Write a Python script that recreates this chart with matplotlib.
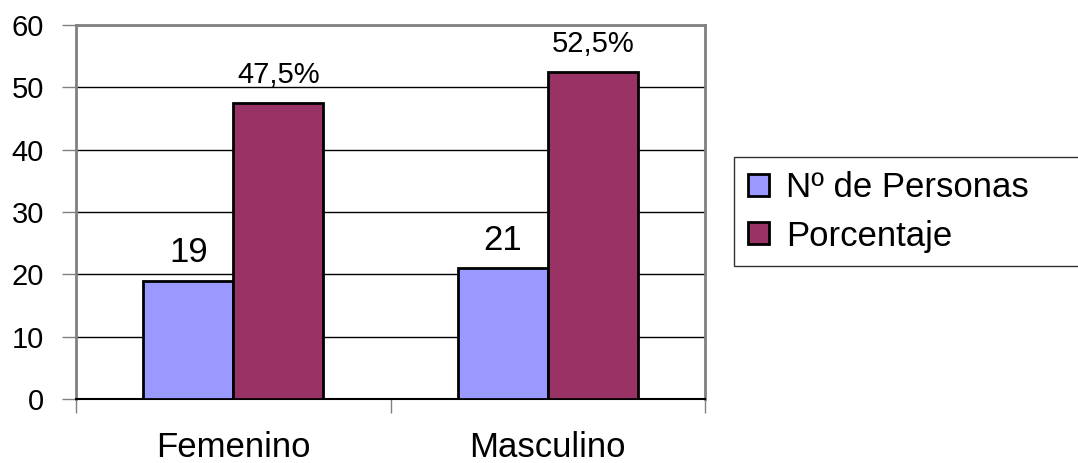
import numpy as np
import matplotlib.pyplot as plt

categories = ["Femenino", "Masculino"]
personas = [19, 21]
porcentaje = [47.5, 52.5]
personas_labels = ["19", "21"]
porcentaje_labels = ["47,5%", "52,5%"]
series_names = ["Nº de Personas", "Porcentaje"]

BLUE = '#9999FF'
MAROON = '#993366'

plt.rc('font', family=['Liberation Sans', 'DejaVu Sans'])

fig = plt.figure(figsize=(10.78, 4.63), dpi=100)
ax = fig.add_axes([76 / 1078, 1 - 399 / 463, 629 / 1078, 374 / 463])

x = np.arange(len(categories))
w = 0.286
b1 = ax.bar(x - w / 2, personas, w, color=BLUE, edgecolor='black', linewidth=2, label=series_names[0], zorder=3)
b2 = ax.bar(x + w / 2, porcentaje, w, color=MAROON, edgecolor='black', linewidth=2, label=series_names[1], zorder=3)

ax.bar_label(b1, labels=personas_labels, padding=8, fontsize=25)
ax.bar_label(b2, labels=porcentaje_labels, padding=10, fontsize=21)

ax.set_xlim(-0.5, 1.5)
ax.set_ylim(0, 60)
ax.set_yticks(range(0, 61, 10))
ax.yaxis.grid(True, color='black', linewidth=1, zorder=0)
ax.tick_params(axis='y', labelsize=21, length=10, width=1, color='#808080', pad=13)

ax.set_xticks(x)
ax.set_xticklabels(categories, fontsize=25)
ax.set_xticks([-0.5, 0.5, 1.5], minor=True)
ax.tick_params(axis='x', which='major', length=0, pad=23)
ax.tick_params(axis='x', which='minor', length=10, width=1, color='#808080')

for side in ['left', 'top', 'right']:
    ax.spines[side].set_color('#808080')
    ax.spines[side].set_linewidth(2)
ax.spines['bottom'].set_color('black')
ax.spines['bottom'].set_linewidth(1.5)

# legend box runs past the right edge of the figure, as in the original
leg = fig.legend(loc='upper left', bbox_to_anchor=(734 / 1078, 1 - 265 / 463, 400 / 1078, 108 / 463),
                 mode='expand', fontsize=25,
                 frameon=True, fancybox=False, handlelength=0.6, handleheight=0.6,
                 handletextpad=0.5, labelspacing=0.45, borderpad=0.4, borderaxespad=0)
leg.get_frame().set_edgecolor('black')
leg.get_frame().set_linewidth(1)

fig.savefig('out.png', dpi=100)
